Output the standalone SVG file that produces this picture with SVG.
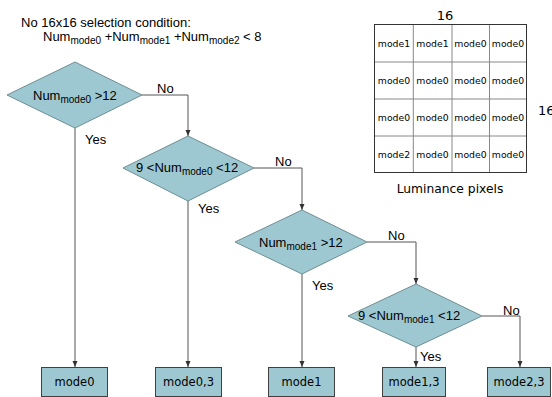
<svg xmlns="http://www.w3.org/2000/svg" width="552" height="397" viewBox="0 0 552 397">
<defs>
<style>
.t{font-family:"Liberation Sans",Arial,sans-serif;font-size:13px;fill:#000}
.s{font-size:10px}
.v{font-family:"DejaVu Sans",Verdana,sans-serif;fill:#000}
.d{fill:#9DC8D1;stroke:#6E8E94;stroke-width:1}
.b{fill:#9DC8D1;stroke:#404040;stroke-width:1}
.c{fill:none;stroke:#555;stroke-width:1}
.g{fill:none;stroke:#888;stroke-width:1}
</style>
<marker id="ah" viewBox="0 0 6 6" refX="6" refY="3" markerWidth="6" markerHeight="6" markerUnits="userSpaceOnUse" orient="auto">
<path d="M0,0.5 L6,3 L0,5.5 Z" fill="#333"/>
</marker>
</defs>
<rect width="552" height="397" fill="#fff"/>

<g id="title">
<text class="t" x="21" y="27" font-size="12.5">No 16x16 selection condition:</text>
<text class="t" x="43" y="41" font-size="12.5">Num<tspan class="s" dy="3">mode0</tspan><tspan dy="-3"> +Num</tspan><tspan class="s" dy="3">mode1</tspan><tspan dy="-3"> +Num</tspan><tspan class="s" dy="3">mode2</tspan><tspan dy="-3"> &lt; 8</tspan></text>
</g>

<g id="connectors">
<polyline class="c" points="142,95 188,95 188,136" marker-end="url(#ah)"/>
<line class="c" x1="75" y1="128" x2="75" y2="367" marker-end="url(#ah)"/>
<polyline class="c" points="254,168 302,168 302,210" marker-end="url(#ah)"/>
<line class="c" x1="188" y1="201" x2="188" y2="367" marker-end="url(#ah)"/>
<polyline class="c" points="367,242 416,242 416,284" marker-end="url(#ah)"/>
<line class="c" x1="302" y1="274" x2="302" y2="367" marker-end="url(#ah)"/>
<polyline class="c" points="482,316 520,316 520,367" marker-end="url(#ah)"/>
<line class="c" x1="416" y1="347" x2="416" y2="367" marker-end="url(#ah)"/>
<text class="t" x="157" y="93">No</text>
<text class="t" x="85" y="144">Yes</text>
<text class="t" x="275" y="166">No</text>
<text class="t" x="198" y="213">Yes</text>
<text class="t" x="388" y="240">No</text>
<text class="t" x="312" y="290">Yes</text>
<text class="t" x="503" y="315">No</text>
<text class="t" x="420" y="361">Yes</text>
</g>

<g id="d1">
<polygon class="d" points="7,95 75,62 142,95 75,128"/>
<text class="t" x="33" y="100">Num<tspan class="s" dy="3">mode0</tspan><tspan dy="-3"> &gt;12</tspan></text>
</g>
<g id="d2">
<polygon class="d" points="123,168 188,136 254,168 188,201"/>
<text class="t" x="136" y="172">9 &lt;Num<tspan class="s" dy="3">mode0</tspan><tspan dy="-3"> &lt;12</tspan></text>
</g>
<g id="d3">
<polygon class="d" points="235,242 302,210 367,242 302,274"/>
<text class="t" x="259" y="247">Num<tspan class="s" dy="3">mode1</tspan><tspan dy="-3"> &gt;12</tspan></text>
</g>
<g id="d4">
<polygon class="d" points="348,316 416,284 482,316 416,347"/>
<text class="t" x="358" y="320">9 &lt;Num<tspan class="s" dy="3">mode1</tspan><tspan dy="-3"> &lt;12</tspan></text>
</g>

<g id="b1"><rect class="b" x="41.5" y="367.5" width="66" height="29"/><text class="v" x="74.5" y="386" font-size="11.5" text-anchor="middle">mode0</text></g>
<g id="b2"><rect class="b" x="155.5" y="367.5" width="66" height="29"/><text class="v" x="188.5" y="386" font-size="11.5" text-anchor="middle">mode0,3</text></g>
<g id="b3"><rect class="b" x="268.5" y="367.5" width="66" height="29"/><text class="v" x="301.5" y="386" font-size="11.5" text-anchor="middle">mode1</text></g>
<g id="b4"><rect class="b" x="382.5" y="367.5" width="63" height="29"/><text class="v" x="414" y="386" font-size="11.5" text-anchor="middle">mode1,3</text></g>
<g id="b5"><rect class="b" x="487.5" y="367.5" width="63" height="29"/><text class="v" x="519" y="386" font-size="11.5" text-anchor="middle">mode2,3</text></g>

<g id="grid">
<line class="g" x1="413.3" y1="24.5" x2="413.3" y2="172.5"/>
<line class="g" x1="452" y1="24.5" x2="452" y2="172.5"/>
<line class="g" x1="489.5" y1="24.5" x2="489.5" y2="172.5"/>
<line class="g" x1="374.5" y1="62" x2="526.5" y2="62"/>
<line class="g" x1="374.5" y1="99" x2="526.5" y2="99"/>
<line class="g" x1="374.5" y1="136" x2="526.5" y2="136"/>
<rect x="374.5" y="24.5" width="152" height="148" fill="none" stroke="#333" stroke-width="1"/>
<g class="v" font-size="9.3" text-anchor="middle">
<text x="394" y="47">mode1</text><text x="432.5" y="47">mode1</text><text x="470.5" y="47">mode0</text><text x="508" y="47">mode0</text>
<text x="394" y="84">mode0</text><text x="432.5" y="84">mode0</text><text x="470.5" y="84">mode0</text><text x="508" y="84">mode0</text>
<text x="394" y="121">mode0</text><text x="432.5" y="121">mode0</text><text x="470.5" y="121">mode0</text><text x="508" y="121">mode0</text>
<text x="394" y="158">mode2</text><text x="432.5" y="158">mode0</text><text x="470.5" y="158">mode0</text><text x="508" y="158">mode0</text>
</g>
<text class="v" x="445" y="20" font-size="13" text-anchor="middle">16</text>
<text class="v" x="538" y="115" font-size="13">16</text>
<text class="v" x="450" y="193" font-size="12.3" text-anchor="middle">Luminance pixels</text>
</g>
</svg>
